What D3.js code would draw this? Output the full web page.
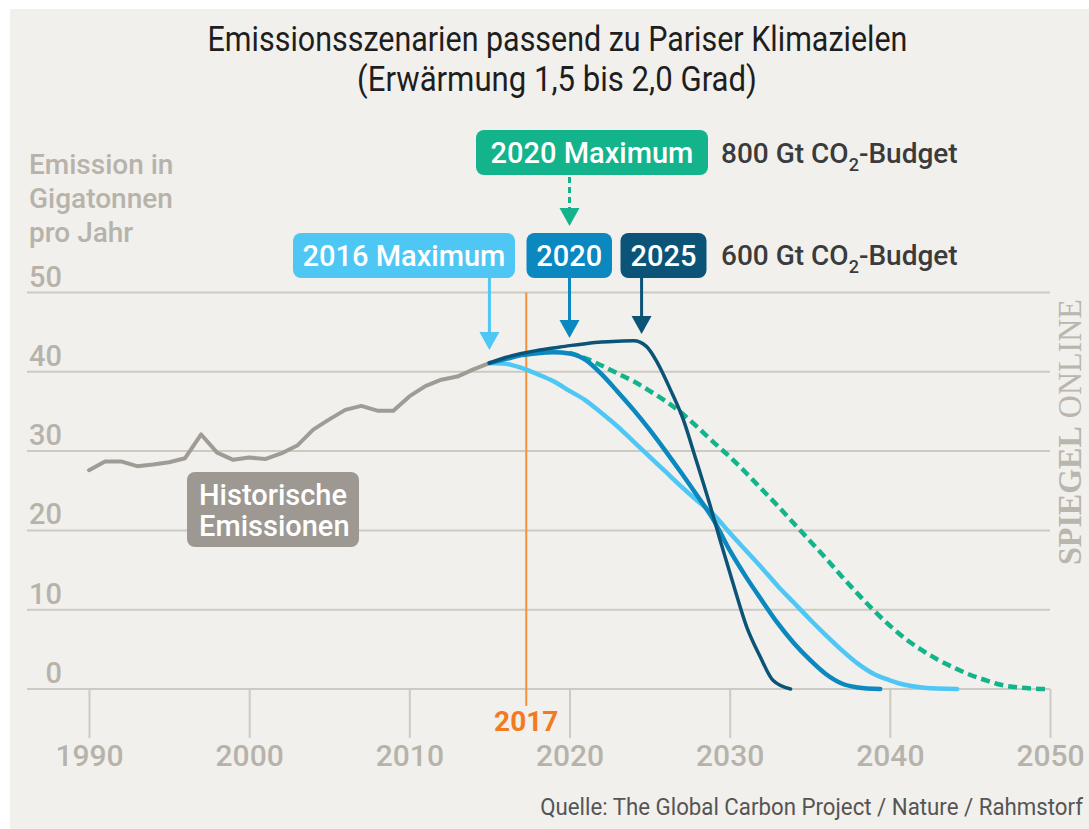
<!DOCTYPE html>
<html>
<head>
<meta charset="utf-8">
<script src="https://cdn.jsdelivr.net/npm/d3@7"></script>
<style>
  html, body { margin: 0; padding: 0; background: #ffffff; }
  svg { display: block; font-family: Roboto, "Open Sans", sans-serif; }
</style>
</head>
<body>
<svg id="chart" width="1089" height="829"></svg>
<script>
// ---------------- data ----------------
const xTicks = [1990, 2000, 2010, 2020, 2030, 2040, 2050];
const yTicks = [0, 10, 20, 30, 40, 50];
const markerYear = 2017.3;
const markerLabel = "2017";

const histYears = [1990,1991,1992,1993,1994,1995,1996,1997,1998,1999,2000,2001,2002,2003,2004,2005,2006,2007,2008,2009,2010,2011,2012,2013,2014,2015];
const histValues = [27.6,28.7,28.7,28.1,28.3,28.6,29.1,32.1,29.8,28.9,29.2,29.0,29.7,30.7,32.7,34.0,35.2,35.7,35.1,35.1,36.9,38.2,39.0,39.4,40.3,41.1];

// Scenario "2016 Maximum" (600 Gt)
const s2016Years  = [2015,2016,2017,2018,2019,2020,2021,2022,2023,2024,2025,2026,2027,2028,2029,2030,2031,2032,2033,2034,2035,2036,2037,2038,2039,2040,2041,2042,2043,2044.2];
const s2016Values = [41.1,41.0,40.5,39.7,38.8,37.6,36.4,34.8,33.1,31.2,29.3,27.4,25.5,23.7,22.0,19.7,17.5,15.3,13.0,10.9,8.8,6.8,4.9,3.2,1.9,1.1,0.5,0.2,0.05,0];

// Scenario "2020" maximum (600 Gt)
const s2020Years  = [2015,2016,2017,2018,2019,2020,2021,2022,2023,2024,2025,2026,2027,2028,2029,2030,2031,2032,2033,2034,2035,2036,2037,2038,2039.4];
const s2020Values = [41.1,41.6,42.1,42.35,42.45,42.3,41.5,39.7,37.5,35.2,32.7,30.0,27.2,24.3,21.3,17.5,14.2,11.2,8.3,5.8,3.7,1.9,0.7,0.2,0];

// Scenario "2025" maximum (600 Gt)
const s2025Years  = [2015,2016,2017,2018,2019,2020,2021,2022,2023,2024,2024.8,2025.5,2026.3,2027.1,2027.9,2028.8,2029.4,2030.2,2031.05,2031.9,2032.7,2033.8];
const s2025Values = [41.1,41.8,42.3,42.7,43.0,43.3,43.55,43.75,43.85,43.9,43.2,41.1,37.75,34.0,28.9,23.0,18.8,13.4,7.9,4.1,1.1,0];

// Scenario "2020 Maximum" (800 Gt)
const s800Years  = [2020,2021,2022,2023,2024,2025,2026,2027,2028,2029,2030,2031,2032,2033,2034,2035,2036,2037,2038,2039,2040,2041,2042,2043,2044,2045,2046,2047,2048,2049,2050];
const s800Values = [42.4,41.7,40.8,39.8,38.8,37.6,36.3,34.8,33.0,31.1,29.3,27.3,25.2,23.1,20.9,18.7,16.5,14.2,12.0,9.9,8.0,6.3,4.9,3.7,2.7,1.8,1.1,0.5,0.2,0.05,0];

const zip = (a, b) => a.map((v, i) => [v, b[i]]);

// ---------------- layout ----------------
const svg = d3.select("#chart");
const W = 1089, H = 829;
const colors = {
  bg: "#f1f0ec", grid: "#cdcac2", axisText: "#b7b3ab",
  hist: "#a09c95", histBox: "#9d9992",
  light: "#4fc7f5", mid: "#0a88bf", dark: "#0b5478", green: "#13b38b",
  orange: "#f6903a", orangeText: "#f47a1f", dark2: "#3b3b3b"
};

// horizontally squeeze a text (anchored at ax) to a target width, keeping it real text
function fitWidth(sel, ax, target) {
  const len = sel.node().getComputedTextLength();
  const s = target / len;
  const prev = sel.attr("transform") || "";
  sel.attr("transform", `${prev} translate(${ax},0) scale(${s},1) translate(${-ax},0)`);
}

svg.append("rect").attr("x", 10).attr("y", 9).attr("width", W - 10).attr("height", H - 9).attr("fill", colors.bg);

const x = d3.scaleLinear().domain([1990, 2050]).range([89, 1050]);
const y = d3.scaleLinear().domain([0, 50]).range([689, 292.5]);

// title
const t1 = svg.append("text").attr("x", 557.5).attr("y", 51).attr("text-anchor", "middle")
  .attr("font-size", 35).attr("fill", "#1e1e1e")
  .text("Emissionsszenarien passend zu Pariser Klimazielen");
fitWidth(t1, 557.5, 700);
const t2 = svg.append("text").attr("x", 557).attr("y", 91).attr("text-anchor", "middle")
  .attr("font-size", 35).attr("fill", "#1e1e1e")
  .text("(Erwärmung 1,5 bis 2,0 Grad)");
fitWidth(t2, 557, 400);

// y-axis title
const yt = svg.append("text").attr("font-size", 28).attr("font-weight", 500).attr("fill", colors.axisText);
["Emission in", "Gigatonnen", "pro Jahr"].forEach((s, i) => {
  yt.append("tspan").attr("x", 29).attr("y", 174 + i * 34).text(s);
});

// gridlines
svg.append("g").selectAll("line").data(yTicks).join("line")
  .attr("x1", 27).attr("x2", 1050)
  .attr("y1", d => y(d)).attr("y2", d => y(d))
  .attr("stroke", colors.grid).attr("stroke-width", 2);

// y tick labels
svg.append("g").selectAll("text").data(yTicks).join("text")
  .attr("x", 62).attr("y", d => y(d) - 6).attr("text-anchor", "end")
  .attr("font-size", 29).attr("font-weight", 500).attr("fill", colors.axisText)
  .text(d => d);

// x ticks
const xAxis = d3.axisBottom(x).tickValues(xTicks).tickFormat(d3.format("d")).tickSize(49).tickPadding(6);
const xg = svg.append("g").attr("transform", `translate(0,${y(0)})`).call(xAxis);
xg.select(".domain").remove();
xg.selectAll(".tick line").attr("stroke", colors.grid).attr("stroke-width", 2);
xg.selectAll(".tick text").attr("font-size", 30).attr("font-weight", 500).attr("fill", colors.axisText)
  .attr("font-family", "Roboto, sans-serif").attr("dy", null).attr("y", 77);

// orange marker
svg.append("line").attr("x1", x(markerYear)).attr("x2", x(markerYear))
  .attr("y1", y(50)).attr("y2", 706).attr("stroke", colors.orange).attr("stroke-width", 2);
svg.append("text").attr("x", x(markerYear)).attr("y", 731).attr("text-anchor", "middle")
  .attr("font-size", 28).attr("font-weight", 700).attr("fill", colors.orangeText).text(markerLabel);

// lines
const line = d3.line().x(d => x(d[0])).y(d => y(d[1]));
const smooth = d3.line().x(d => x(d[0])).y(d => y(d[1])).curve(d3.curveMonotoneX);

svg.append("path").datum(zip(histYears, histValues)).attr("d", line)
  .attr("fill", "none").attr("stroke", colors.hist).attr("stroke-width", 4)
  .attr("stroke-linejoin", "round").attr("stroke-linecap", "round");

svg.append("path").datum(zip(s2016Years, s2016Values)).attr("d", smooth)
  .attr("fill", "none").attr("stroke", colors.light).attr("stroke-width", 4.5).attr("stroke-linecap", "round");
svg.append("path").datum(zip(s800Years, s800Values)).attr("d", smooth)
  .attr("fill", "none").attr("stroke", colors.green).attr("stroke-width", 4.5).attr("stroke-dasharray", "9,5");
svg.append("path").datum(zip(s2020Years, s2020Values)).attr("d", smooth)
  .attr("fill", "none").attr("stroke", colors.mid).attr("stroke-width", 4.5).attr("stroke-linecap", "round");
svg.append("path").datum(zip(s2025Years, s2025Values)).attr("d", smooth)
  .attr("fill", "none").attr("stroke", colors.dark).attr("stroke-width", 3.5).attr("stroke-linecap", "round");

// historical label box
svg.append("rect").attr("x", 187).attr("y", 472).attr("width", 172).attr("height", 75).attr("rx", 8)
  .attr("fill", colors.histBox);
const ht = svg.append("text").attr("font-size", 29).attr("font-weight", 500).attr("fill", "#ffffff");
ht.append("tspan").attr("x", 199).attr("y", 505).text("Historische");
ht.append("tspan").attr("x", 199).attr("y", 536).text("Emissionen");

// scenario label boxes
const boxes = [
  {label: "2020 Maximum", color: colors.green, x: 476, y: 130, w: 232, h: 45},
  {label: "2016 Maximum", color: colors.light, x: 293, y: 233, w: 222, h: 45},
  {label: "2020", color: colors.mid, x: 526.5, y: 233, w: 85.5, h: 45},
  {label: "2025", color: colors.dark, x: 620.5, y: 233, w: 86, h: 45}
];
const bg = svg.append("g").selectAll("g").data(boxes).join("g");
bg.append("rect").attr("x", d => d.x).attr("y", d => d.y).attr("width", d => d.w).attr("height", d => d.h)
  .attr("rx", 8).attr("fill", d => d.color);
bg.append("text").attr("x", d => d.x + d.w / 2).attr("y", d => d.y + 32.5).attr("text-anchor", "middle")
  .attr("font-size", 29).attr("font-weight", 500).attr("fill", "#ffffff").text(d => d.label);

// arrows
const arrows = [
  {year: 2020, color: colors.green, top: 177, tip: 226, dashed: true},
  {year: 2015, color: colors.light, top: 278, tip: 350},
  {year: 2020, color: colors.mid, top: 278, tip: 338},
  {year: 2024.5, color: colors.dark, top: 278, tip: 334}
];
arrows.forEach(a => {
  const ax = x(a.year);
  svg.append("line").attr("x1", ax).attr("x2", ax).attr("y1", a.top).attr("y2", a.tip - 16)
    .attr("stroke", a.color).attr("stroke-width", 3)
    .attr("stroke-dasharray", a.dashed ? "6,4" : null);
  svg.append("path").attr("d", `M${ax - 10},${a.tip - 18}L${ax + 10},${a.tip - 18}L${ax},${a.tip}Z`)
    .attr("fill", a.color);
});

// budget labels
function budget(txt, yy) {
  const t = svg.append("text").attr("x", 721).attr("y", yy).attr("font-size", 28).attr("font-weight", 500)
    .attr("fill", colors.dark2);
  t.append("tspan").text(txt + " Gt CO");
  t.append("tspan").attr("font-size", 18).attr("dy", 8).text("2");
  t.append("tspan").attr("dy", -8).text("-Budget");
}
budget("800", 163);
budget("600", 265);

// watermark
const wm = svg.append("text").attr("x", 0).attr("y", 0)
  .attr("text-anchor", "middle")
  .style("font-family", "'Liberation Serif', 'DejaVu Serif', serif")
  .attr("font-size", 33).attr("fill", "#bab6ae");
wm.append("tspan").attr("font-weight", 700).text("SPIEGEL");
wm.append("tspan").attr("font-weight", 400).text(" ONLINE");
const wmLen = wm.node().getComputedTextLength();
wm.attr("transform", `translate(1081,432) rotate(-90) scale(${266 / wmLen},1)`);

// source
const src = svg.append("text").attr("x", 1083).attr("y", 815).attr("text-anchor", "end")
  .attr("font-size", 23).attr("fill", "#555555")
  .text("Quelle: The Global Carbon Project / Nature / Rahmstorf");
fitWidth(src, 1083, 543);
</script>
</body>
</html>
